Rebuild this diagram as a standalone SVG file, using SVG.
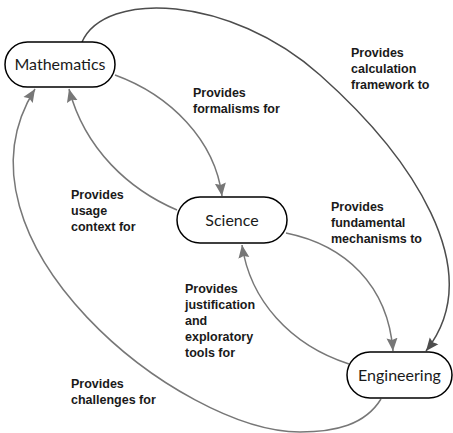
<svg xmlns="http://www.w3.org/2000/svg" width="453" height="433" viewBox="0 0 453 433">
<style>
.node rect{fill:#fff;stroke:#000;stroke-width:1.5}
.node text{font-family:Lato,"Open Sans",sans-serif;font-size:16px;fill:#1a1a1a;text-anchor:middle}
.edge{fill:none;stroke:#777;stroke-width:1.5}
.dark{stroke:#4d4d4d}
.lbl{font-family:"Liberation Sans",Arial,sans-serif;font-weight:bold;font-size:12.5px;fill:#1a1a1a}
</style>
<defs>
<marker id="ah" markerUnits="userSpaceOnUse" markerWidth="14" markerHeight="12" refX="13" refY="5.5" orient="auto" viewBox="0 0 14 11">
<path d="M0,0 L13,5.5 L0,11 L2,5.5 z" fill="#777"/>
</marker>
<marker id="ahd" markerUnits="userSpaceOnUse" markerWidth="14" markerHeight="12" refX="13" refY="5.5" orient="auto" viewBox="0 0 14 11">
<path d="M0,0 L13,5.5 L0,11 L2,5.5 z" fill="#4d4d4d"/>
</marker>
</defs>
<g id="connectors">
<path class="edge" d="M115,75 C 170,95 215,140 222,196" marker-end="url(#ah)"/>
<path class="edge" d="M177,210 C 130,190 85,150 69,89" marker-end="url(#ah)"/>
<path class="edge dark" d="M82,42 C 105,-10 230,-5 320,75 S 490,270 426,351" marker-end="url(#ahd)"/>
<path class="edge" d="M286,233 C 345,245 388,285 393,351" marker-end="url(#ah)"/>
<path class="edge" d="M349,364 C 290,345 250,300 242,245" marker-end="url(#ah)"/>
<path class="edge" d="M381,399 C 365,425 335,432 300,432 C 180,432 -60,240 35,89" marker-end="url(#ah)"/>
</g>
<g id="labels">
<text class="lbl" x="193" y="97">Provides</text>
<text class="lbl" x="193" y="113">formalisms for</text>
<text class="lbl" x="351" y="57">Provides</text>
<text class="lbl" x="351" y="73">calculation</text>
<text class="lbl" x="351" y="89">framework to</text>
<text class="lbl" x="71" y="199">Provides</text>
<text class="lbl" x="71" y="215">usage</text>
<text class="lbl" x="71" y="231">context for</text>
<text class="lbl" x="331" y="211">Provides</text>
<text class="lbl" x="331" y="227">fundamental</text>
<text class="lbl" x="331" y="243">mechanisms to</text>
<text class="lbl" x="185" y="293">Provides</text>
<text class="lbl" x="185" y="309">justification</text>
<text class="lbl" x="185" y="325">and</text>
<text class="lbl" x="185" y="341">exploratory</text>
<text class="lbl" x="185" y="357">tools for</text>
<text class="lbl" x="71" y="388">Provides</text>
<text class="lbl" x="71" y="404">challenges for</text>
</g>
<g id="mathematics" class="node">
<rect x="5" y="42" width="110" height="45" rx="22.5"/>
<text x="60" y="70">Mathematics</text>
</g>
<g id="science" class="node">
<rect x="177" y="197" width="110" height="46" rx="23"/>
<text x="232" y="225.5">Science</text>
</g>
<g id="engineering" class="node">
<rect x="347" y="352" width="105" height="46" rx="23"/>
<text x="399.5" y="381">Engineering</text>
</g>
</svg>
